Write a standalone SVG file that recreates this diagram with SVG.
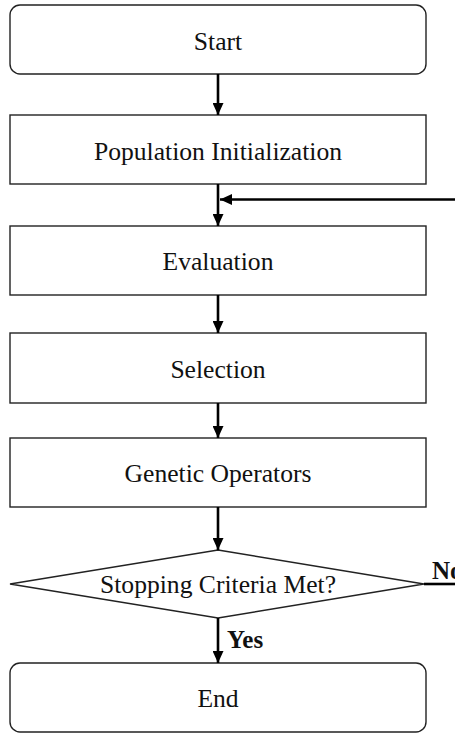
<svg xmlns="http://www.w3.org/2000/svg" width="455" height="734" viewBox="0 0 455 734">
<style>
.box{fill:#fff;stroke:#222;stroke-width:1.4}
.lbl{font-family:"Liberation Serif","Times New Roman",serif;font-size:25.6px;fill:#111;text-anchor:middle}
.bl{font-family:"Liberation Serif","Times New Roman",serif;font-size:25px;font-weight:bold;fill:#111}
.cn{stroke:#000;stroke-width:2.6;fill:none}
</style>
<defs>
<marker id="ah" markerUnits="userSpaceOnUse" markerWidth="13" markerHeight="11" refX="12" refY="5.5" orient="auto">
<path d="M0,0 L12,5.5 L0,11 Z" fill="#000"/>
</marker>
</defs>
<rect width="455" height="734" fill="#fff"/>
<g id="start"><rect class="box" x="10" y="5" width="416" height="69" rx="10"/><text class="lbl" x="218" y="49.5">Start</text></g>
<g id="init"><rect class="box" x="10" y="115" width="416" height="69"/><text class="lbl" x="218" y="159.5">Population Initialization</text></g>
<g id="eval"><rect class="box" x="10" y="226" width="416" height="69"/><text class="lbl" x="218" y="270">Evaluation</text></g>
<g id="sel"><rect class="box" x="10" y="333" width="416" height="70"/><text class="lbl" x="218" y="378">Selection</text></g>
<g id="gen"><rect class="box" x="10" y="438" width="416" height="69"/><text class="lbl" x="218" y="482">Genetic Operators</text></g>
<g id="stop"><polygon class="box" points="218,550 424,584 218,618 10,584"/><text class="lbl" x="218" y="593">Stopping Criteria Met?</text></g>
<g id="end"><rect class="box" x="10" y="663" width="416" height="69" rx="10"/><text class="lbl" x="218" y="707">End</text></g>
<g id="connectors">
<line class="cn" x1="218" y1="74" x2="218" y2="115" marker-end="url(#ah)"/>
<line class="cn" x1="218" y1="184" x2="218" y2="226" marker-end="url(#ah)"/>
<line class="cn" x1="218" y1="295" x2="218" y2="333" marker-end="url(#ah)"/>
<line class="cn" x1="218" y1="403" x2="218" y2="438" marker-end="url(#ah)"/>
<line class="cn" x1="218" y1="507" x2="218" y2="550" marker-end="url(#ah)"/>
<line class="cn" x1="218" y1="618" x2="218" y2="663" marker-end="url(#ah)"/>
<line class="cn" x1="424" y1="584" x2="455" y2="584"/>
<line class="cn" x1="455" y1="199.5" x2="220" y2="199.5" marker-end="url(#ah)"/>
<text class="bl" x="227" y="648">Yes</text>
<text class="bl" x="432" y="579">No</text>
</g>
</svg>
